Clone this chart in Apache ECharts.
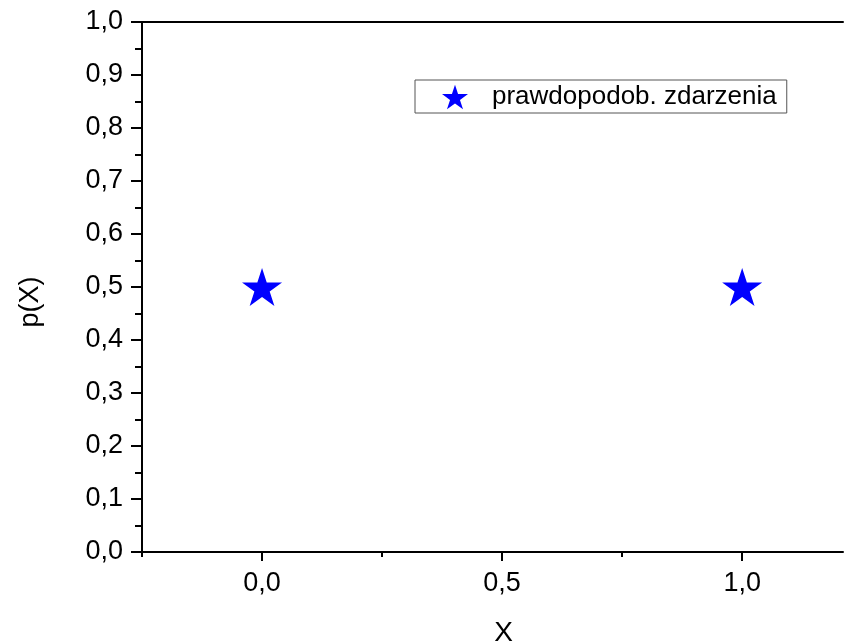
<!DOCTYPE html>
<html>
<head>
<meta charset="utf-8">
<script src="https://cdn.jsdelivr.net/npm/echarts@6/dist/echarts.min.js"></script>
<style>
  html, body { margin: 0; padding: 0; background: #fff; }
  #chart { width: 845px; height: 644px; }
</style>
</head>
<body>
<div id="chart"></div>
<script>
// dane
let xValues = [0, 1]
  , pValues = [0.5, 0.5]
  , seriesName = 'prawdopodob. zdarzenia'
  , xLabelValues = [0, 0.5, 1]
  , xMinorValues = [-0.25, 0.25, 0.75]

let starPath = 'path://M50,0 L61.2,34.5 L97.6,34.5 L68.2,55.9 L79.4,90.5 L50,69.1 L20.6,90.5 L31.8,55.9 L2.4,34.5 L38.8,34.5 Z'
  , font = 'Liberation Sans, Arial, sans-serif'
  , fmt = v => v.toFixed(1).replace('.', ',')

let chart = echarts.init(document.getElementById('chart'))

chart.setOption({
  animation: false,
  backgroundColor: '#fff',
  grid: {
    left: 142,
    right: 2,
    top: 22,
    bottom: 92,
    show: false,
    containLabel: false,
    outerBoundsMode: 'none'
  },
  legend: {
    left: 415,
    top: 80,
    orient: 'vertical',
    padding: [4, 10, 3, 27],
    borderColor: '#555',
    borderWidth: 1,
    borderRadius: 0,
    itemWidth: 26,
    itemHeight: 26,
    itemGap: 22,
    textStyle: { fontFamily: font, fontSize: 26, color: '#000', padding: [0, 0, 0, 19] },
    data: [{ name: seriesName, icon: starPath }]
  },
  xAxis: [
    {
      type: 'value',
      min: -0.25,
      max: 1.21,
      position: 'bottom',
      name: 'X',
      nameLocation: 'middle',
      nameGap: 67,
      nameTextStyle: { fontFamily: font, fontSize: 28, color: '#000', padding: [0, 0, 0, 22] },
      axisLine: { show: true, onZero: false, lineStyle: { color: '#000', width: 2 } },
      axisTick: { show: true, inside: false, length: 9, customValues: xLabelValues, lineStyle: { color: '#000', width: 2 } },
      axisLabel: { customValues: xLabelValues, formatter: fmt, fontFamily: font, fontSize: 27, color: '#000', margin: 18 },
      splitLine: { show: false }
    },
    {
      type: 'value',
      min: -0.25,
      max: 1.21,
      position: 'bottom',
      axisLine: { show: false },
      axisTick: { show: true, inside: false, length: 5, customValues: xMinorValues, lineStyle: { color: '#000', width: 2 } },
      axisLabel: { show: false },
      splitLine: { show: false }
    },
    {
      type: 'value',
      min: -0.25,
      max: 1.21,
      position: 'top',
      axisLine: { show: true, onZero: false, lineStyle: { color: '#000', width: 2 } },
      axisTick: { show: false },
      axisLabel: { show: false },
      splitLine: { show: false }
    }
  ],
  yAxis: {
    type: 'value',
    min: 0,
    max: 1,
    interval: 0.1,
    name: 'p(X)',
    nameLocation: 'middle',
    nameGap: 98,
    nameTextStyle: { fontFamily: font, fontSize: 27, color: '#000', padding: [0, 30, 0, 0] },
    axisLine: { show: true, onZero: false, lineStyle: { color: '#000', width: 2 } },
    axisTick: { show: true, inside: false, length: 11, lineStyle: { color: '#000', width: 2 } },
    minorTick: { show: true, splitNumber: 2, length: 7, lineStyle: { color: '#000', width: 2 } },
    axisLabel: { formatter: fmt, fontFamily: font, fontSize: 27, color: '#000', margin: 19 },
    splitLine: { show: false }
  },
  series: [
    {
      name: seriesName,
      type: 'scatter',
      symbol: starPath,
      symbolSize: [40, 38],
      itemStyle: { color: '#0000ff', opacity: 1 },
      data: xValues.map((x, i) => [x, pValues[i]])
    }
  ]
})
</script>
</body>
</html>
